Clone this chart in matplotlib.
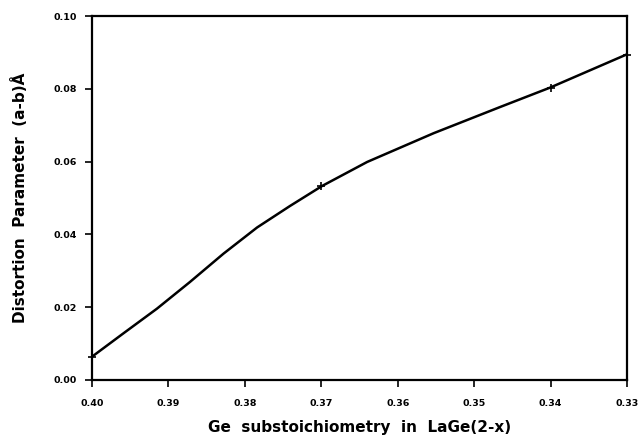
import matplotlib
matplotlib.use('Agg')
import matplotlib.pyplot as plt

# measured points (marked with +)
x_pts = [0.40, 0.37, 0.34, 0.33]
y_pts = [0.0064, 0.0533, 0.0802, 0.0893]

# smooth curve
x_curve = [0.400, 0.3959, 0.3915, 0.3872, 0.3828, 0.3784, 0.3741, 0.3699,
           0.3640, 0.3553, 0.3466, 0.3401, 0.3357, 0.3302]
y_curve = [0.0064, 0.0128, 0.0196, 0.0269, 0.0347, 0.0419, 0.0478, 0.0533,
           0.0599, 0.0678, 0.0750, 0.0803, 0.0843, 0.0893]

x_ticks = [0.40, 0.39, 0.38, 0.37, 0.36, 0.35, 0.34, 0.33]
y_ticks = [0.00, 0.02, 0.04, 0.06, 0.08, 0.10]

fig = plt.figure(figsize=(6.38, 4.42), dpi=100)
ax = fig.add_axes([0.1442, 0.1403, 0.8386, 0.8235])

ax.plot(x_curve, y_curve, color='black', lw=1.8, solid_joinstyle='round')
ax.plot(x_pts, y_pts, ls='none', marker='+', ms=6, mew=1.2, color='black',
        clip_on=False)

ax.set_xlim(0.40, 0.33)
ax.set_ylim(0.0, 0.10)
ax.set_xticks(x_ticks)
ax.set_yticks(y_ticks)
ax.set_xticklabels(['%.2f' % v for v in x_ticks])
ax.set_yticklabels(['%.2f' % v for v in y_ticks])

for s in ax.spines.values():
    s.set_linewidth(1.6)
ax.tick_params(direction='out', length=5, width=1.2, labelsize=6.8)
ax.tick_params(axis='x', pad=9)
ax.tick_params(axis='y', pad=6)
for lab in ax.get_xticklabels() + ax.get_yticklabels():
    lab.set_fontweight('bold')

ax.set_xlabel('Ge  substoichiometry  in  LaGe(2-x)', fontsize=11,
              fontweight='bold', labelpad=8)
ax.set_ylabel('Distortion  Parameter  (a-b)Å', fontsize=11,
              fontweight='bold', labelpad=18)

fig.savefig('out.png', dpi=100)
plt.close(fig)
